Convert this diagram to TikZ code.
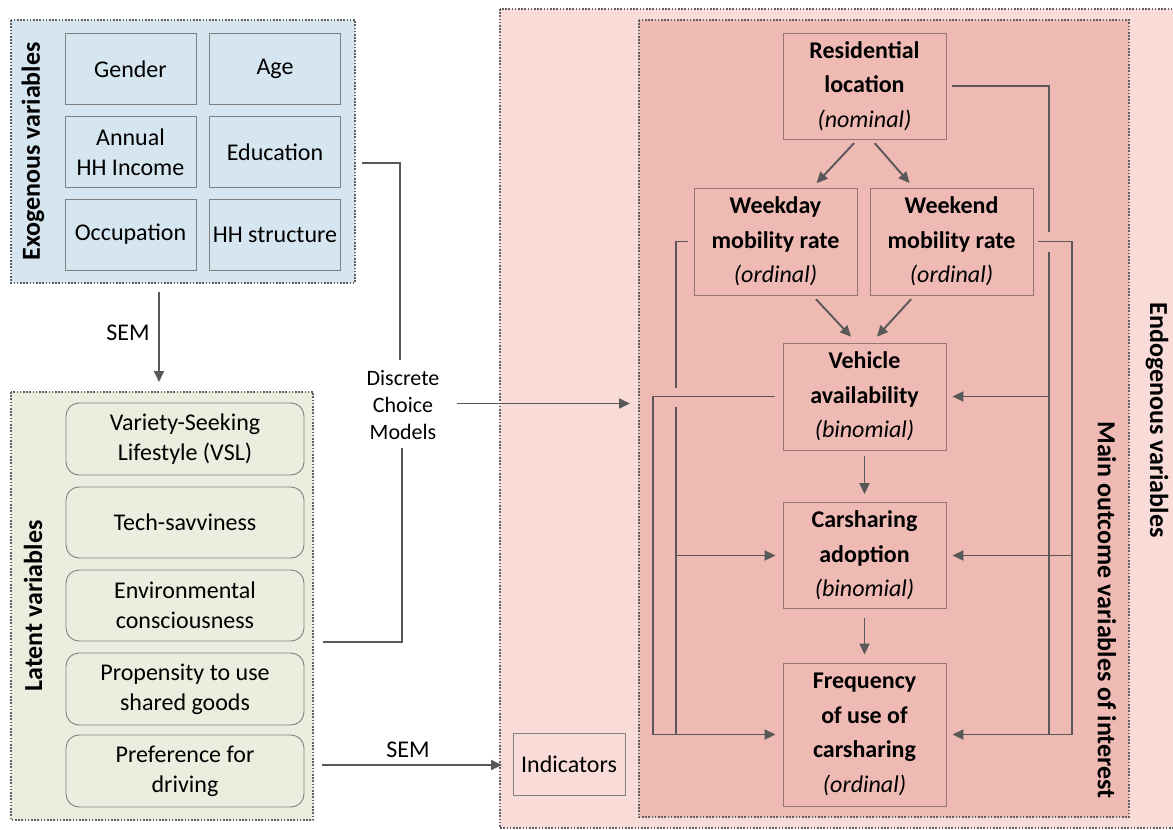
\documentclass[tikz,border=0pt]{standalone}
\usepackage{fontspec}
\setmainfont{Carlito}
\usetikzlibrary{arrows.meta}
\definecolor{exofill}{RGB}{214,230,241}
\definecolor{latfill}{RGB}{235,237,222}
\definecolor{endofill}{RGB}{249,220,215}
\definecolor{mainfill}{RGB}{239,186,180}
\definecolor{boxline}{RGB}{128,128,128}
\definecolor{endline}{RGB}{150,118,118}
\definecolor{conncol}{RGB}{88,88,88}
\definecolor{dotcol}{RGB}{95,95,95}
\begin{document}
\begin{tikzpicture}[x=1pt,y=-1pt,
  txt/.style={font=\fontsize{24}{30}\selectfont, align=center, text=black},
  exobox/.style={txt, draw=boxline, line width=0.9pt, fill=exofill, minimum width=131pt, minimum height=71pt, inner sep=0pt},
  latbox/.style={txt, draw=boxline, line width=0.9pt, fill=latfill, rounded corners=13pt, minimum width=238pt, inner sep=0pt},
  endbox/.style={font=\fontsize{24}{34.5}\selectfont\bfseries, align=center, draw=endline, line width=0.9pt, minimum width=163pt, inner sep=0pt},
  group/.style={draw=dotcol, line width=1.6pt, dash pattern=on 1.6pt off 1.6pt},
  vlabel/.style={font=\fontsize{26}{30}\selectfont\bfseries},
  conn/.style={draw=conncol, line width=1.9pt},
  arr/.style={conn, -{Triangle[length=11pt,width=10pt]}},
]
\useasboundingbox (0,0) rectangle (1173,830);
\clip (0,0) rectangle (1173,830);
\fill[white] (0,0) rectangle (1173,830);

% groups
\draw[group, fill=exofill] (11,20) rectangle (355,283);
\draw[group, fill=latfill] (11,392) rectangle (313,820);
\draw[group, fill=endofill] (500,9) rectangle (1190,828);
\draw[group, fill=mainfill] (639,20) rectangle (1129,817);

% vertical labels
\node[vlabel, rotate=90] (exolab) at (33,151.5) {Exogenous variables};
\node[vlabel, rotate=90] (latlab) at (33,606) {Latent variables};
\node[vlabel, rotate=-90] (endolab) at (1157,420) {Endogenous variables};
\node[vlabel, rotate=-90] (mainlab) at (1107,610) {Main outcome variables of interest};

% exogenous
\node[exobox] (gender) at (130.5,69) {Gender};
\node[exobox] (age) at (275,69) {Age};
\node[exobox] (income) at (130.5,152) {Annual\\HH Income};
\node[exobox] (edu) at (275,152) {Education};
\node[exobox] (occ) at (130.5,234.5) {Occupation};
\node[exobox] (hh) at (275,234.5) {HH structure};

% latent
\node[latbox, minimum height=72pt] (vsl) at (185,439) {Variety-Seeking\\Lifestyle (VSL)};
\node[latbox, minimum height=71pt] (tech) at (185,522.5) {Tech-savviness};
\node[latbox, minimum height=71pt] (env) at (185,605.5) {Environmental\\consciousness};
\node[latbox, minimum height=72pt] (prop) at (185,689) {Propensity to use\\shared goods};
\node[latbox, minimum height=72pt] (pref) at (185,771) {Preference for\\driving};

% labels
\node[txt] (sem1) at (128,333) {SEM};
\node[txt] (sem2) at (408,750) {SEM};
\node[font=\fontsize{22}{27}\selectfont, align=center] (dcm) at (403,405) {Discrete\\Choice\\Models};

% endogenous
\node[endbox, minimum height=106pt] (res) at (864.5,86) {Residential\\location\\{\mdseries\itshape (nominal)}};
\node[endbox, minimum height=107pt] (wd) at (775.5,241.5) {Weekday\\mobility rate\\{\mdseries\itshape (ordinal)}};
\node[endbox, minimum height=107pt] (we) at (951.5,241.5) {Weekend\\mobility rate\\{\mdseries\itshape (ordinal)}};
\node[endbox, minimum height=107pt] (veh) at (864.5,396.5) {Vehicle\\availability\\{\mdseries\itshape (binomial)}};
\node[endbox, minimum height=106pt] (car) at (864.5,555.5) {Carsharing\\adoption\\{\mdseries\itshape (binomial)}};
\node[endbox, minimum height=143pt] (freq) at (864.5,734.5) {Frequency\\of use of\\carsharing\\{\mdseries\itshape (ordinal)}};
\node[txt, draw=boxline, line width=0.9pt, minimum width=112pt, minimum height=62pt, inner sep=0pt] (ind) at (569,764) {Indicators};

% left-side connectors
\coordinate (exoS) at (159,292);
\coordinate (latN) at (159,382);
\draw[arr] (exoS) -- (latN);
\coordinate (dcmA) at (362,163);
\coordinate (dcmB) at (400,360);
\draw[conn] (dcmA) -| (dcmB);
\coordinate (dcmC) at (323,642);
\coordinate (dcmD) at (402,448);
\draw[conn] (dcmC) -| (dcmD);
\coordinate (dcmE) at (457,403.5);
\coordinate (dcmF) at (630,403.5);
\draw[arr] (dcmE) -- (dcmF);
\coordinate (semA) at (322,765);
\coordinate (semB) at (502,765);
\draw[arr] (semA) -- (semB);

% endogenous arrows
\draw[arr, shorten <=5pt, shorten >=6pt] ([xshift=-7pt]res.south) -- ([xshift=37pt]wd.north);
\draw[arr, shorten <=5pt, shorten >=6pt] ([xshift=7pt]res.south) -- ([xshift=-38pt]we.north);
\draw[arr, shorten <=5pt, shorten >=8pt] ([xshift=37pt]wd.south) -- ([xshift=-8pt]veh.north);
\draw[arr, shorten <=5pt, shorten >=8pt] ([xshift=-37pt]we.south) -- ([xshift=7pt]veh.north);
\draw[arr, shorten <=6pt, shorten >=8pt] (veh.south) -- (car.north);
\draw[arr, shorten <=9pt, shorten >=8pt] (car.south) -- (freq.north);

% right buses
\coordinate (rbGapTop) at (1049,232);
\coordinate (rbGapBot) at (1049,252);
\coordinate (rbEnd) at (1049,734.5);
\draw[conn] ([xshift=6pt]res.east) -| (rbGapTop);
\draw[conn] (rbGapBot) -- (rbEnd);
\draw[arr] (veh.east -| rbEnd) -- ([xshift=6pt]veh.east);
\coordinate (wbEnd) at (1072,734.5);
\draw[conn] ([xshift=5pt]we.east) -| (wbEnd);
\draw[arr] (car.east -| wbEnd) -- ([xshift=6pt]car.east);
\draw[arr] (wbEnd) -- ([xshift=6pt]freq.east);

% left buses
\coordinate (lbGapTop) at (676,388);
\coordinate (lbGapBot) at (676,407);
\coordinate (lbEnd) at (676,734.5);
\draw[conn] ([xshift=-6pt]wd.west) -| (lbGapTop);
\draw[conn] (lbGapBot) -- (lbEnd);
\draw[arr] (car.west -| lbEnd) -- ([xshift=-7pt]car.west);
\coordinate (vbEnd) at (653,734.5);
\draw[conn] ([xshift=-8pt]veh.west) -| (vbEnd);
\draw[arr] (vbEnd) -- ([xshift=-7pt]freq.west);
\end{tikzpicture}
\end{document}
